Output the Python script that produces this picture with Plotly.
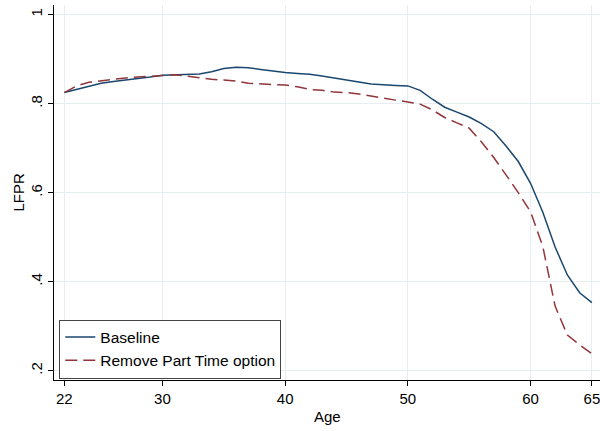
import plotly.graph_objects as go

ages = list(range(22, 66))
baseline = [0.825, 0.832, 0.840, 0.846, 0.850, 0.853, 0.856, 0.860, 0.864, 0.865,
            0.866, 0.867, 0.872, 0.879, 0.882, 0.881, 0.877, 0.873, 0.870, 0.868,
            0.866, 0.862, 0.858, 0.854, 0.849, 0.844, 0.842, 0.841, 0.840, 0.830,
            0.810, 0.792, 0.781, 0.770, 0.755, 0.737, 0.705, 0.670, 0.621, 0.556,
            0.478, 0.415, 0.375, 0.353]
no_part_time = [0.825, 0.840, 0.848, 0.852, 0.855, 0.858, 0.860, 0.862, 0.864, 0.865,
                0.862, 0.858, 0.855, 0.853, 0.851, 0.846, 0.844, 0.843, 0.842, 0.838,
                0.832, 0.830, 0.826, 0.825, 0.822, 0.817, 0.812, 0.808, 0.804, 0.799,
                0.786, 0.769, 0.757, 0.745, 0.714, 0.679, 0.640, 0.600, 0.557, 0.479,
                0.345, 0.280, 0.258, 0.238]

x_ticks = [22, 30, 40, 50, 60, 65]
y_ticks = [0.2, 0.4, 0.6, 0.8, 1.0]
y_tick_labels = [".2", ".4", ".6", ".8", "1"]

font = "Liberation Sans, Arial, sans-serif"
grid = "#e6eef1"

fig = go.Figure()
fig.add_trace(go.Scatter(x=ages, y=baseline, mode="lines", name="Baseline",
                         line=dict(color="#1a476f", width=1.5)))
fig.add_trace(go.Scatter(x=ages, y=no_part_time, mode="lines", name="Remove Part Time option",
                         line=dict(color="#90353b", width=1.5, dash="12px,6px")))

fig.update_layout(
    width=600, height=431,
    margin=dict(l=54, r=0, t=5, b=51),
    paper_bgcolor="white", plot_bgcolor="white",
    font=dict(family=font, size=15, color="black"),
    showlegend=True,
    legend=dict(x=0.0097, y=0.004, xanchor="left", yanchor="bottom",
                bordercolor="#444444", borderwidth=1, bgcolor="white",
                font=dict(size=15.5), tracegroupgap=0),
    xaxis=dict(range=[21.16, 65.66], tickvals=x_ticks, ticks="outside", ticklen=5,
               tickcolor="black", showline=True, linecolor="black", linewidth=1,
               showgrid=True, gridcolor=grid, gridwidth=1, zeroline=False,
               automargin=False, ticklabeloverflow="allow", tickfont=dict(size=15)),
    yaxis=dict(range=[0.179, 1.0218], tickvals=y_ticks, ticktext=y_tick_labels,
               tickangle=-90, ticks="outside", ticklen=5, tickcolor="black",
               showline=True, linecolor="black", linewidth=1,
               showgrid=True, gridcolor=grid, gridwidth=1, zeroline=False,
               automargin=False, ticklabeloverflow="allow", tickfont=dict(size=15)),
    annotations=[
        dict(text="Age", xref="paper", yref="paper", x=0.5, y=-0.096,
             xanchor="center", yanchor="middle", showarrow=False, font=dict(size=15)),
        dict(text="LFPR", xref="paper", yref="paper", x=-0.0659, y=0.5,
             xanchor="center", yanchor="middle", textangle=-90, showarrow=False,
             font=dict(size=15)),
    ],
)

fig.write_html("out.html", config={"displayModeBar": False},
               post_script="document.body.style.margin='0';document.body.style.overflow='hidden';")
